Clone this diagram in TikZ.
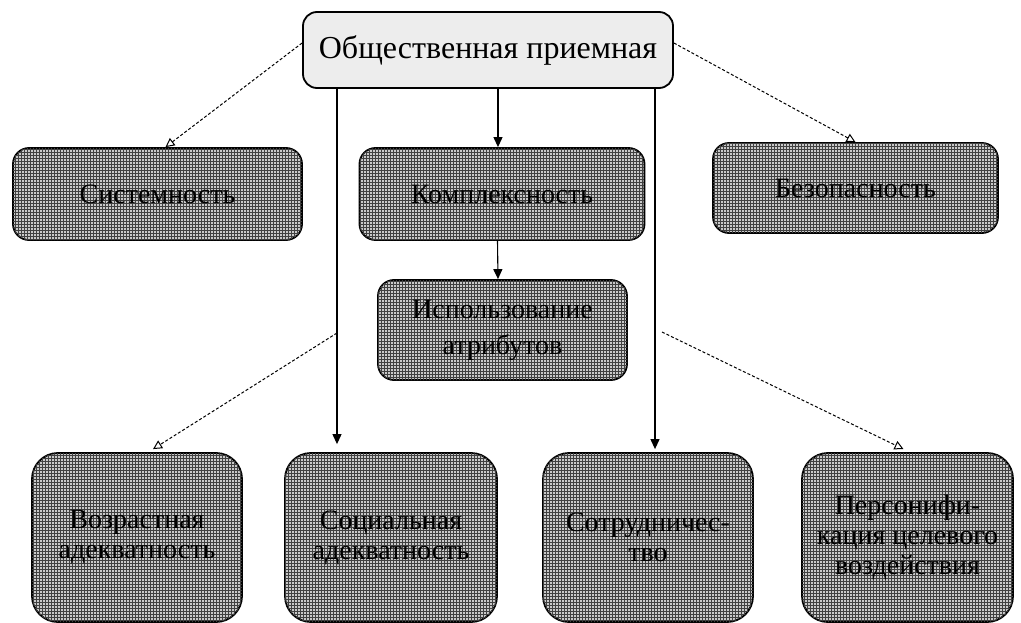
\documentclass[tikz,border=0pt]{standalone}
\usepackage{fontspec}
\setmainfont{Liberation Serif}
\usetikzlibrary{arrows.meta,patterns}
\begin{document}
\begin{tikzpicture}[x=1pt,y=-1pt,
  box/.style={draw=black,line width=1.8pt,rounded corners=16pt,inner sep=0pt,align=center,
    fill=gray!42,postaction={pattern=grid,pattern color=black!75},
    font=\fontsize{28}{30}\selectfont},
  tallbox/.style={box,rounded corners=26pt,minimum height=169pt},
  topbox/.style={draw=black,line width=1.8pt,rounded corners=14pt,inner sep=0pt,
    fill=gray!14,font=\fontsize{32}{36}\selectfont},
  solidarr/.style={line width=1.1pt,-{Triangle[length=10pt,width=9pt]}},
  dasharr/.style={line width=1pt,dash pattern=on 3pt off 2pt,-{Triangle[open,length=9pt,width=9pt]}}]
\useasboundingbox (0,0) rectangle (1021,623);
\node[topbox,minimum width=370pt,minimum height=76pt] (top) at (488,50) {Общественная приемная};
\node[box,minimum width=289pt,minimum height=92pt] (sys) at (157.5,194) {Системность};
\node[box,minimum width=285pt,minimum height=92pt] (kom) at (502,194) {Комплексность};
\node[box,minimum width=249pt,minimum height=100pt,font=\fontsize{28}{36}\selectfont] (isp) at (502.5,330) {Использование\\атрибутов};
\node[box,minimum width=285pt,minimum height=90pt] (bez) at (855.5,188) {Безопасность};
\node[tallbox,minimum width=210pt] (voz) at (137,537.5) {Возрастная\\адекватность};
\node[tallbox,minimum width=212pt] (soc) at (391,537.5) {Социальная\\адекватность};
\node[tallbox,minimum width=210pt] (sot) at (648,537.5) {Сотрудничес-\\тво};
\node[tallbox,minimum width=211pt] (per) at (907.5,537.5) {Персонифи-\\кация целевого\\воздействия};
% connectors
\draw[dasharr] ([yshift=7pt]top.west) -- ([xshift=8pt]sys.north);
\draw[dasharr] ([yshift=7pt]top.east) -- (bez.north);
\draw[solidarr] ([xshift=10pt]top.south) -- ([xshift=-4pt]kom.north);
\draw[solidarr] ([xshift=-4.5pt]kom.south) -- ([xshift=-4.5pt]isp.north);
\draw[solidarr] ([xshift=-151pt]top.south) -- ([xshift=-54pt,yshift=8pt]soc.north);
\draw[solidarr] ([xshift=167pt]top.south) -- ([xshift=7pt,yshift=3pt]sot.north);
\coordinate (s1) at ([xshift=-151pt]top.south |- 0,333);
\coordinate (s2) at ([xshift=174pt]top.south |- 0,332);
\draw[dasharr] (s1) -- ([xshift=16pt,yshift=3pt]voz.north);
\draw[dasharr] (s2) -- ([xshift=-4pt,yshift=3pt]per.north);
\end{tikzpicture}
\end{document}
